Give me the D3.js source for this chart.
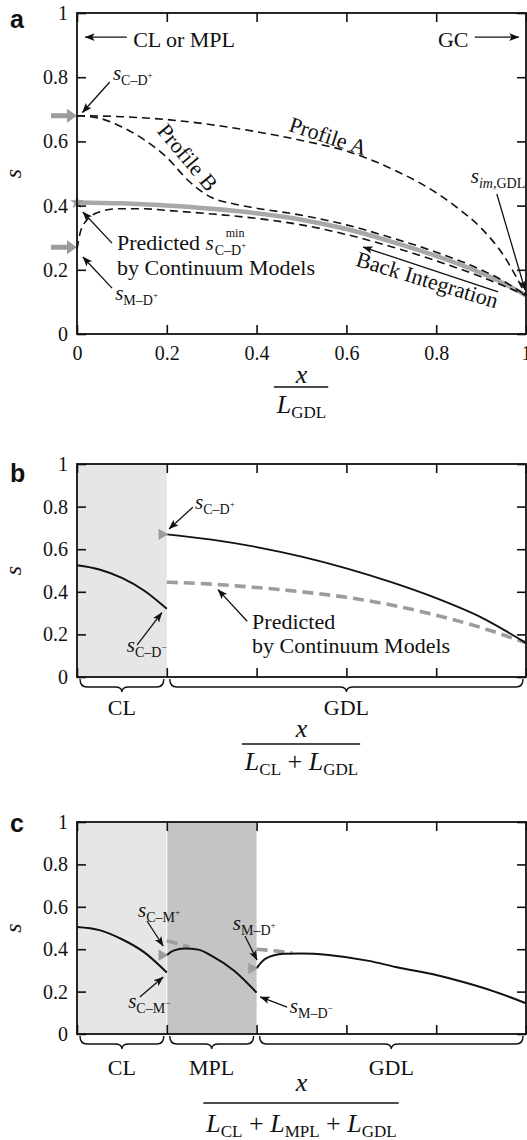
<!DOCTYPE html>
<html>
<head>
<meta charset="utf-8">
<script src="https://cdn.jsdelivr.net/npm/d3@7"></script>
<style>
  body { margin: 0; background: #fff; }
  svg text { font-family: "Liberation Serif", "Times New Roman", serif; fill: #111; }
</style>
</head>
<body>
<svg id="chart" width="527" height="1140"></svg>
<script>
// ---- data ----
const xTicks = [0, 0.2, 0.4, 0.6, 0.8, 1];
const yTicks = [0, 0.2, 0.4, 0.6, 0.8, 1];

// panel a: profiles in the GDL, [x/L, s]
const profileA = [[0, 0.68], [0.1, 0.677], [0.2, 0.668], [0.3, 0.652], [0.4, 0.63], [0.5, 0.603],
  [0.6, 0.57], [0.7, 0.515], [0.8, 0.44], [0.85, 0.39], [0.9, 0.33], [0.95, 0.245], [1, 0.12]];
const profileB = [[0, 0.68], [0.05, 0.672], [0.1, 0.645], [0.15, 0.605], [0.2, 0.55], [0.25, 0.475],
  [0.3, 0.425], [0.35, 0.405], [0.4, 0.392], [0.5, 0.37], [0.6, 0.34], [0.7, 0.3], [0.8, 0.255],
  [0.9, 0.2], [0.95, 0.165], [1, 0.12]];
const profileC = [[0, 0.265], [0.007, 0.315], [0.022, 0.355], [0.05, 0.38], [0.09, 0.39], [0.15, 0.39],
  [0.2, 0.385], [0.3, 0.374], [0.4, 0.36], [0.5, 0.34], [0.6, 0.31], [0.7, 0.272], [0.8, 0.228],
  [0.9, 0.178], [0.95, 0.15], [1, 0.12]];
const backIntegration = [[0, 0.41], [0.1, 0.407], [0.2, 0.4], [0.3, 0.39], [0.4, 0.376], [0.5, 0.356],
  [0.6, 0.327], [0.7, 0.288], [0.8, 0.243], [0.9, 0.19], [0.95, 0.158], [1, 0.12]];
const inletMarksA = [0.68, 0.27];   // grey arrows at x = 0
const starA = [0, 0.41];

// panel b: CL + GDL
const regionsB = [['CL', 0, 0.2], ['GDL', 0.2, 1]];
const clB = [[0, 0.525], [0.05, 0.505], [0.1, 0.465], [0.15, 0.405], [0.2, 0.32]];
const gdlB = [[0.2, 0.67], [0.3, 0.645], [0.4, 0.61], [0.5, 0.565], [0.6, 0.51], [0.7, 0.445],
  [0.8, 0.37], [0.9, 0.28], [1, 0.16]];
const predB = [[0.2, 0.445], [0.3, 0.436], [0.4, 0.42], [0.5, 0.4], [0.6, 0.374], [0.7, 0.338],
  [0.8, 0.29], [0.9, 0.232], [1, 0.16]];
const trianglesB = [[0.2, 0.67]];

// panel c: CL + MPL + GDL
const regionsC = [['CL', 0, 0.2], ['MPL', 0.2, 0.4], ['GDL', 0.4, 1]];
const clC = [[0, 0.505], [0.05, 0.49], [0.1, 0.447], [0.15, 0.385], [0.2, 0.29]];
const mplC = [[0.2, 0.372], [0.215, 0.393], [0.24, 0.403], [0.27, 0.398], [0.3, 0.368], [0.35, 0.298], [0.4, 0.195]];
const gdlC = [[0.4, 0.31], [0.42, 0.355], [0.46, 0.378], [0.5, 0.38], [0.56, 0.373], [0.65, 0.345],
  [0.71, 0.316], [0.8, 0.278], [0.86, 0.245], [0.93, 0.2], [1, 0.145]];
const predC1 = [[0.2, 0.44], [0.225, 0.425], [0.25, 0.41]];
const predC2 = [[0.4, 0.4], [0.45, 0.39], [0.48, 0.382]];
const trianglesC = [[0.2, 0.372], [0.4, 0.31]];

const shade = { CL: '#e6e6e6', MPL: '#c4c4c4', GDL: 'none' };
const GREY = '#9c9c9c';

// ---- scales ----
const svg = d3.select('#chart');
const x = d3.scaleLinear().domain([0, 1]).range([77, 526]);
const ya = d3.scaleLinear().domain([0, 1]).range([334, 13]);
const yb = d3.scaleLinear().domain([0, 1]).range([677, 464]);
const yc = d3.scaleLinear().domain([0, 1]).range([1034, 822]);

const defs = svg.append('defs');
defs.append('marker')
  .attr('id', 'ah').attr('viewBox', '0 0 10 10').attr('refX', 9.5).attr('refY', 5)
  .attr('markerWidth', 10).attr('markerHeight', 10)
  .attr('markerUnits', 'userSpaceOnUse').attr('orient', 'auto')
  .append('path').attr('d', 'M0,1.2 L10,5 L0,8.8 L2.2,5 Z').attr('fill', '#111');

// ---- helpers ----
function richText(g, px, py, pieces, anchor) {
  const t = g.append('text').attr('x', px).attr('y', py).attr('text-anchor', anchor || 'start');
  let cur = 0;
  pieces.forEach(([str, size, shift, italic]) => {
    const ts = t.append('tspan').attr('font-size', size).attr('dy', shift - cur).text(str);
    if (italic) ts.attr('font-style', 'italic');
    cur = shift;
  });
  return t;
}

function sym(g, px, py, sub, sup) {
  const pieces = [['s', 21, 0, true]];
  sub.forEach(([str, it]) => pieces.push([str, 14, 5, it]));
  if (sup) pieces.push([sup, 9, -2, false]);
  return richText(g, px, py, pieces);
}

function arrow(g, y, p1, p2) {
  g.append('line')
    .attr('x1', x(p1[0])).attr('y1', y(p1[1]))
    .attr('x2', x(p2[0])).attr('y2', y(p2[1]))
    .attr('stroke', '#111').attr('stroke-width', 1.3)
    .attr('marker-end', 'url(#ah)');
}

function curve(g, y, data, stroke, width, dash) {
  const line = d3.line().x(d => x(d[0])).y(d => y(d[1])).curve(d3.curveMonotoneX);
  const p = g.append('path').datum(data).attr('d', line)
    .attr('fill', 'none').attr('stroke', stroke).attr('stroke-width', width);
  if (dash) p.attr('stroke-dasharray', dash);
  return p;
}

function rotatedLabel(g, px, py, angle, str) {
  g.append('text')
    .attr('transform', `translate(${px},${py}) rotate(${angle})`)
    .attr('text-anchor', 'middle').attr('dy', '0.33em')
    .attr('font-size', 22).text(str);
}

function frame(g, y, xLabels, letter, letterY) {
  const [yBot, yTop] = y.range();
  const bottom = g.append('g').attr('transform', `translate(0,${yBot})`)
    .call(d3.axisBottom(x).tickValues(xTicks).tickSizeInner(-9).tickSizeOuter(0).tickPadding(12)
      .tickFormat(xLabels ? d => String(d) : ''));
  const top = g.append('g').attr('transform', `translate(0,${yTop})`)
    .call(d3.axisTop(x).tickValues(xTicks).tickSizeInner(-9).tickSizeOuter(0).tickFormat(''));
  const left = g.append('g').attr('transform', `translate(${x(0)},0)`)
    .call(d3.axisLeft(y).tickValues(yTicks).tickSizeInner(-9).tickSizeOuter(0).tickPadding(9)
      .tickFormat(d => String(d)));
  const right = g.append('g').attr('transform', `translate(${x(1)},0)`)
    .call(d3.axisRight(y).tickValues(yTicks).tickSizeInner(-9).tickSizeOuter(0).tickFormat(''));
  [bottom, top, left, right].forEach(a => {
    a.select('.domain').remove();
    a.selectAll('.tick line').attr('stroke', '#111').attr('stroke-width', 1.6);
    a.selectAll('.tick text').attr('font-size', 20).attr('fill', '#111')
      .style('font-family', '"Liberation Serif", serif');
  });
  g.append('rect')
    .attr('x', x(0)).attr('y', yTop).attr('width', x(1) - x(0)).attr('height', yBot - yTop)
    .attr('fill', 'none').attr('stroke', '#111').attr('stroke-width', 1.8);

  // y-axis title, rotated
  g.append('text')
    .attr('transform', `translate(21,${(yBot + yTop) / 2}) rotate(-90)`)
    .attr('text-anchor', 'middle').attr('font-size', 24).attr('font-style', 'italic').text('s');

  g.append('text').attr('x', 10).attr('y', letterY)
    .style('font-family', '"Liberation Sans", Arial, sans-serif')
    .attr('font-weight', 'bold').attr('font-size', 25).text(letter);
}

function fraction(g, yNum, yLine, yDen, denPieces) {
  const cx = (x(0) + x(1)) / 2;
  g.append('text').attr('x', cx).attr('y', yNum).attr('text-anchor', 'middle')
    .attr('font-size', 26).attr('font-style', 'italic').text('x');
  const den = richText(g, cx, yDen, denPieces, 'middle');
  const bb = den.node().getBBox();
  g.append('line').attr('x1', bb.x - 2).attr('x2', bb.x + bb.width + 2)
    .attr('y1', yLine).attr('y2', yLine).attr('stroke', '#111').attr('stroke-width', 1.5);
}

function regions(g, y, regs) {
  const [yBot, yTop] = y.range();
  g.selectAll('.region').data(regs.filter(r => shade[r[0]] !== 'none')).enter()
    .append('rect').attr('class', 'region')
    .attr('x', d => x(d[1])).attr('width', d => x(d[2]) - x(d[1]))
    .attr('y', yTop).attr('height', yBot - yTop)
    .attr('fill', d => shade[d[0]]);
}

function braces(g, y, regs, labelDy) {
  const yBot = y.range()[0];
  const y0 = yBot + 2, h = 8, d = 13, r = 7;
  regs.forEach(([name, a, b]) => {
    const x1 = x(a) + 3, x2 = x(b) - 3, m = (x1 + x2) / 2;
    const path = `M${x1},${y0} Q${x1},${y0 + h} ${x1 + r},${y0 + h} L${m - r},${y0 + h} ` +
      `Q${m},${y0 + h} ${m},${y0 + d} Q${m},${y0 + h} ${m + r},${y0 + h} ` +
      `L${x2 - r},${y0 + h} Q${x2},${y0 + h} ${x2},${y0}`;
    g.append('path').attr('d', path).attr('fill', 'none').attr('stroke', '#111').attr('stroke-width', 1.4);
    g.append('text').attr('x', m).attr('y', yBot + labelDy).attr('text-anchor', 'middle')
      .attr('font-size', 22).text(name);
  });
}

function triangles(g, y, pts) {
  g.selectAll('.tri').data(pts).enter().append('path').attr('class', 'tri')
    .attr('d', d3.symbol().type(d3.symbolTriangle).size(55))
    .attr('transform', d => `translate(${x(d[0]) - 5},${y(d[1])}) rotate(90)`)
    .attr('fill', GREY);
}

// ================= panel a =================
const ga = svg.append('g');
curve(ga, ya, backIntegration, '#a8a8a8', 4.5);
curve(ga, ya, profileA, '#111', 1.6, '8,5');
curve(ga, ya, profileB, '#111', 1.6, '8,5');
curve(ga, ya, profileC, '#111', 1.6, '8,5');

inletMarksA.forEach(s => {
  const px = x(0), py = ya(s);
  ga.append('path')
    .attr('d', `M${px - 26},${py - 2.5} h16 v-4.5 l10,7 l-10,7 v-4.5 h-16 Z`)
    .attr('fill', GREY);
});
ga.append('path')
  .attr('d', d3.symbol().type(d3.symbolStar).size(60))
  .attr('transform', `translate(${x(starA[0])},${ya(starA[1])})`)
  .attr('fill', GREY);

frame(ga, ya, true, 'a', 28);

// region arrows at the top
arrow(ga, ya, [0.111, 0.925], [0.018, 0.925]);
ga.append('text').attr('x', x(0.125)).attr('y', ya(0.893)).attr('font-size', 22).text('CL or MPL');
ga.append('text').attr('x', x(0.804)).attr('y', ya(0.893)).attr('font-size', 22).text('GC');
arrow(ga, ya, [0.886, 0.925], [0.984, 0.925]);

sym(ga, x(0.08), ya(0.79), [['C–D', false]], '+');
arrow(ga, ya, [0.073, 0.785], [0.012, 0.69]);

rotatedLabel(ga, x(0.559), ya(0.616), 18, 'Profile A');
rotatedLabel(ga, x(0.246), ya(0.55), 50, 'Profile B');

sym(ga, x(0.877), ya(0.47), [['im', true], [',GDL', false]]);
arrow(ga, ya, [0.935, 0.436], [0.998, 0.137]);

// "Predicted s^min_C-D+" block
const pred = ga.append('text').attr('x', x(0.089)).attr('y', ya(0.262)).attr('font-size', 22);
pred.append('tspan').text('Predicted ');
pred.append('tspan').attr('font-style', 'italic').attr('font-size', 21).text('s');
const predEnd = x(0.089) + pred.node().getComputedTextLength();
richText(ga, predEnd + 1, ya(0.262) + 5, [['C–D', 14, 0, false], ['+', 9, -7, false]]);
ga.append('text').attr('x', predEnd + 12).attr('y', ya(0.262) - 13).attr('font-size', 12).text('min');
ga.append('text').attr('x', x(0.089)).attr('y', ya(0.184)).attr('font-size', 22).text('by Continuum Models');
arrow(ga, ya, [0.078, 0.283], [0.013, 0.38]);
arrow(ga, ya, [0.078, 0.143], [0.013, 0.24]);
sym(ga, x(0.085), ya(0.106), [['M–D', false]], '+');

rotatedLabel(ga, x(0.78), ya(0.168), 17, 'Back Integration');
arrow(ga, ya, [0.938, 0.131], [0.637, 0.271]);

fraction(ga, 383, 387, 413, [['L', 26, 0, true], ['GDL', 17, 5, false]]);

// ================= panel b =================
const gb = svg.append('g');
regions(gb, yb, regionsB);
curve(gb, yb, predB, GREY, 3.6, '11,6');
curve(gb, yb, clB, '#111', 2);
curve(gb, yb, gdlB, '#111', 1.8);
triangles(gb, yb, trianglesB);
frame(gb, yb, false, 'b', 482);

sym(gb, x(0.263), yb(0.788), [['C–D', false]], '+');
arrow(gb, yb, [0.258, 0.797], [0.205, 0.695]);
sym(gb, x(0.111), yb(0.118), [['C–D', false]], '−');
arrow(gb, yb, [0.134, 0.151], [0.189, 0.302]);
gb.append('text').attr('x', x(0.39)).attr('y', yb(0.226)).attr('font-size', 22).text('Predicted');
gb.append('text').attr('x', x(0.39)).attr('y', yb(0.113)).attr('font-size', 22).text('by Continuum Models');
arrow(gb, yb, [0.379, 0.262], [0.314, 0.41]);

braces(gb, yb, regionsB, 38);
fraction(gb, 737, 744, 770, [['L', 26, 0, true], ['CL', 17, 5, false], [' + ', 26, 0, false],
  ['L', 26, 0, true], ['GDL', 17, 5, false]]);

// ================= panel c =================
const gc = svg.append('g');
regions(gc, yc, regionsC);
gc.append('line').attr('x1', x(0.2)).attr('x2', x(0.2)).attr('y1', yc(1)).attr('y2', yc(0))
  .attr('stroke', '#fff').attr('stroke-width', 1);
curve(gc, yc, predC1, GREY, 3.6, '11,6');
curve(gc, yc, predC2, GREY, 3.6, '11,6');
curve(gc, yc, clC, '#111', 2);
curve(gc, yc, mplC, '#111', 2);
curve(gc, yc, gdlC, '#111', 2);
triangles(gc, yc, trianglesC);
frame(gc, yc, false, 'c', 832);

sym(gc, x(0.136), yc(0.552), [['C–M', false]], '+');
arrow(gc, yc, [0.156, 0.533], [0.192, 0.415]);
sym(gc, x(0.114), yc(0.123), [['C–M', false]], '−');
arrow(gc, yc, [0.14, 0.175], [0.192, 0.269]);
sym(gc, x(0.347), yc(0.49), [['M–D', false]], '+');
arrow(gc, yc, [0.374, 0.462], [0.401, 0.349]);
sym(gc, x(0.474), yc(0.099), [['M–D', false]], '−');
arrow(gc, yc, [0.468, 0.127], [0.408, 0.175]);

braces(gc, yc, regionsC, 41);
fraction(gc, 1091, 1103, 1132, [['L', 26, 0, true], ['CL', 17, 5, false], [' + ', 26, 0, false],
  ['L', 26, 0, true], ['MPL', 17, 5, false], [' + ', 26, 0, false],
  ['L', 26, 0, true], ['GDL', 17, 5, false]]);
</script>
</body>
</html>
